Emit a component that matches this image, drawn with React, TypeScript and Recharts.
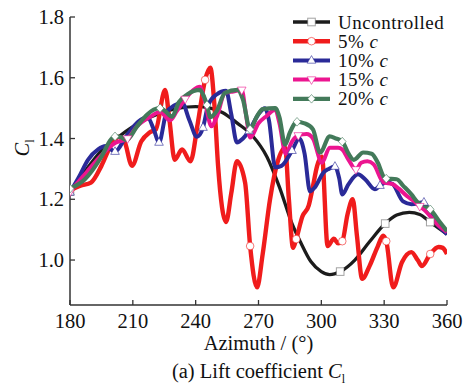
import React from "react";
import { LineChart, Line, XAxis, YAxis } from "recharts";

// azimuth (deg), lift coefficient
const uncontrolled: [number, number][] = [
  [180, 1.225], [188, 1.3], [195, 1.36], [204, 1.41], [214, 1.455], [223, 1.483], [232, 1.5], [240, 1.505],
  [247, 1.5], [253, 1.485], [260, 1.45], [267, 1.41], [274, 1.34], [280, 1.24], [286, 1.12], [290, 1.06],
  [295, 0.995], [300, 0.962], [304, 0.952], [309, 0.962], [316, 1.0], [323, 1.06], [330.5, 1.12], [336, 1.148],
  [342, 1.157], [347, 1.15], [352, 1.125], [356, 1.105], [360, 1.085],
];
const uncontrolledMarks = [180, 309, 330.5, 352];

const fivePct: [number, number][] = [
  [180, 1.23], [185, 1.245], [190, 1.255], [195, 1.31], [199, 1.37], [203, 1.405], [206, 1.39], [209.6, 1.31],
  [214, 1.39], [218, 1.42], [221, 1.43], [225.4, 1.56], [227.5, 1.46], [230, 1.33], [233.5, 1.364], [237.5, 1.325],
  [241, 1.45], [244.5, 1.593], [247, 1.633], [249, 1.505], [250.7, 1.31], [254.5, 1.125], [257, 1.22], [259.7, 1.325],
  [263.6, 1.255], [266, 1.046], [269.3, 0.91], [272, 1.02], [275.5, 1.2], [279, 1.32], [282.7, 1.37], [284.5, 1.2],
  [286.5, 1.04], [288, 1.069], [291, 1.144], [294, 1.18], [296, 1.243], [298, 1.31], [300.3, 1.34], [303, 1.046],
  [306, 1.07], [308, 1.055], [310, 1.062], [312.5, 1.15], [315, 1.2], [317, 1.08], [319.5, 0.938], [323, 0.98],
  [327, 1.046], [329.5, 1.08], [331, 1.062], [334.3, 0.91], [338.5, 0.993], [343, 1.026], [346, 1.0], [348, 0.98],
  [352, 1.02], [356, 1.043], [358, 1.04], [360, 1.02],
];
const fivePctMarks = [180, 244.5, 266, 288, 310, 331, 352];

const tenPct: [number, number][] = [
  [180, 1.223], [184, 1.27], [188.6, 1.33], [193.4, 1.364], [197, 1.375], [201.5, 1.357], [206.7, 1.406], [212.5, 1.455],
  [217, 1.47], [220, 1.43], [222.5, 1.387], [226, 1.485], [230, 1.51], [233.5, 1.518], [237, 1.46], [240.6, 1.406],
  [243.5, 1.436], [246, 1.51], [250, 1.545], [254.5, 1.557], [257, 1.48], [259.7, 1.387], [262.6, 1.4], [265.5, 1.425],
  [270, 1.48], [273, 1.5], [275, 1.46], [278, 1.305], [281, 1.31], [286, 1.36], [289.5, 1.4], [292, 1.35],
  [294.6, 1.226], [297, 1.24], [301, 1.288], [303.5, 1.3], [306.5, 1.308], [308.5, 1.27], [310, 1.216], [313, 1.25],
  [317.5, 1.282], [321, 1.265], [325.6, 1.233], [328, 1.245], [331, 1.256], [334, 1.25], [339, 1.193], [343, 1.184],
  [349, 1.19], [352, 1.15], [355, 1.12], [360, 1.085],
];
const tenPctMarks = [180, 201.5, 222.5, 243.5, 265.5, 286, 306.5, 328, 349];

const fifteenPct: [number, number][] = [
  [180, 1.225], [188, 1.29], [195, 1.345], [201.5, 1.385], [207.5, 1.4], [212, 1.44], [218, 1.47], [223, 1.487],
  [227.8, 1.46], [231, 1.49], [235, 1.53], [239, 1.56], [242, 1.57], [244.5, 1.52], [247.5, 1.44], [250, 1.47],
  [254, 1.55], [258, 1.555], [262, 1.56], [264, 1.48], [266, 1.403], [270, 1.45], [274, 1.475], [278, 1.495],
  [280, 1.45], [283, 1.35], [286, 1.39], [289, 1.41], [293, 1.415], [296, 1.4], [300.3, 1.32], [304, 1.37],
  [308, 1.37], [310, 1.364], [313, 1.33], [316.5, 1.298], [319, 1.32], [322, 1.325], [325, 1.315], [329.6, 1.256],
  [334, 1.25], [337, 1.235], [341, 1.21], [344, 1.195], [347, 1.177], [350, 1.16], [355, 1.12], [360, 1.092],
];
const fifteenPctMarks = [180, 207.5, 235, 262, 289, 316.5, 347];

const twentyPct: [number, number][] = [
  [180, 1.235], [187, 1.265], [195, 1.34], [199.6, 1.397], [201.5, 1.407], [204, 1.405], [207, 1.395], [212, 1.44],
  [217, 1.48], [220, 1.495], [223, 1.5], [225.5, 1.49], [228.7, 1.472], [232, 1.52], [236, 1.545], [242, 1.56],
  [243.5, 1.545], [245.4, 1.51], [247, 1.47], [250, 1.49], [254, 1.55], [260, 1.56], [262.5, 1.53], [266, 1.43],
  [269, 1.47], [272, 1.497], [278, 1.5], [280, 1.47], [282.7, 1.38], [285, 1.42], [288.4, 1.455], [292, 1.45],
  [296, 1.43], [299.4, 1.354], [304, 1.407], [307, 1.4], [310, 1.39], [313, 1.35], [315.5, 1.33], [320, 1.354],
  [324, 1.35], [327, 1.32], [330, 1.272], [331, 1.268], [336, 1.266], [339, 1.245], [343, 1.216], [346, 1.19],
  [349, 1.18], [352, 1.167], [356, 1.13], [360, 1.095],
];
const twentyPctMarks = [180, 201.5, 223, 245.4, 266, 288.4, 310, 331, 352];

const xTicks = [180, 210, 240, 270, 300, 330, 360];
const yTicks = [1.0, 1.2, 1.4, 1.6, 1.8];

const FONT = "'Liberation Serif', 'Times New Roman', serif";
const FS = 20.5;

type Shape = "square" | "circle" | "up" | "down" | "diamond";

const series = [
  { key: "unc", name: "Uncontrolled", pct: "", color: "#1c1c1c", width: 3.3, shape: "square" as Shape, data: uncontrolled, marks: uncontrolledMarks },
  { key: "p5", name: "5% ", pct: "c", color: "#f01c1c", width: 4.4, shape: "circle" as Shape, data: fivePct, marks: fivePctMarks },
  { key: "p10", name: "10% ", pct: "c", color: "#2a2a98", width: 4, shape: "up" as Shape, data: tenPct, marks: tenPctMarks },
  { key: "p15", name: "15% ", pct: "c", color: "#ec1590", width: 4, shape: "down" as Shape, data: fifteenPct, marks: fifteenPctMarks },
  { key: "p20", name: "20% ", pct: "c", color: "#437a5a", width: 4.2, shape: "diamond" as Shape, data: twentyPct, marks: twentyPctMarks },
];

function Marker({ shape, x, y, color }: { shape: Shape; x: number; y: number; color: string }) {
  const s = 3.8;
  const common = { fill: "#fff", stroke: color, strokeWidth: 1, strokeOpacity: 0.6 };
  if (shape === "square") return <rect x={x - s} y={y - s} width={2 * s} height={2 * s} {...common} stroke="#666" />;
  if (shape === "circle") return <circle cx={x} cy={y} r={s} {...common} />;
  if (shape === "up") return <polygon points={`${x},${y - s - 1} ${x - s - 0.5},${y + s - 1} ${x + s + 0.5},${y + s - 1}`} {...common} />;
  if (shape === "down") return <polygon points={`${x},${y + s + 1} ${x - s - 0.5},${y - s + 1} ${x + s + 0.5},${y - s + 1}`} {...common} />;
  return <polygon points={`${x},${y - s - 0.5} ${x + s},${y} ${x},${y + s + 0.5} ${x - s},${y}`} {...common} />;
}

const makeDot = (marks: number[], shape: Shape, color: string) => (props: any) => {
  const { cx, cy, payload, index } = props;
  if (!marks.includes(payload.az)) return <g key={`d${index}`} />;
  return (
    <g key={`d${index}`}>
      <Marker shape={shape} x={cx} y={cy} color={color} />
    </g>
  );
};

const XTick = ({ x, y, payload }: any) => (
  <g>
    <line x1={x} x2={x} y1={y} y2={y - 5} stroke="#333" strokeWidth={1.3} />
    <text x={x} y={y + 23} textAnchor="middle" fontSize={FS} fill="#111" fontFamily={FONT}>
      {payload.value}
    </text>
  </g>
);

const YTick = ({ x, y, payload }: any) => (
  <g>
    <line x1={x} x2={x + 5} y1={y} y2={y} stroke="#333" strokeWidth={1.3} />
    <text x={x - 6} y={y + 7} textAnchor="end" fontSize={FS} fill="#111" fontFamily={FONT}>
      {Number(payload.value).toFixed(1)}
    </text>
  </g>
);

const LegendBox = () => (
  <svg width={175} height={110} style={{ display: "block" }}>
    {series.map((s, i) => {
      const cy = 13 + i * 19.2;
      return (
        <g key={s.key}>
          <line x1={3} x2={40} y1={cy} y2={cy} stroke={s.color} strokeWidth={s.width} />
          <Marker shape={s.shape} x={21.5} y={cy} color={s.color} />
          <text x={48} y={cy + 6.5} fontSize={19} letterSpacing={0.5} fill="#111" fontFamily={FONT}>
            {s.name}
            {s.pct && <tspan fontStyle="italic">{s.pct}</tspan>}
          </text>
        </g>
      );
    })}
  </svg>
);

export default function App() {
  return (
    <div style={{ position: "relative", width: 469, height: 389, background: "#fff", fontFamily: FONT }}>
      <style>{`body{margin:0}`}</style>
      <LineChart width={469} height={389} margin={{ top: 17, right: 22, bottom: 0, left: 0 }}>
        <XAxis
          type="number"
          dataKey="az"
          domain={[180, 360]}
          ticks={xTicks}
          height={84}
          tickSize={0}
          tickMargin={0}
          tickLine={false}
          axisLine={{ stroke: "#333", strokeWidth: 1.5 }}
          tick={<XTick />}
          allowDataOverflow
        />
        <YAxis
          type="number"
          domain={[0.852, 1.8]}
          ticks={yTicks}
          width={70}
          tickSize={0}
          tickMargin={0}
          tickLine={false}
          axisLine={{ stroke: "#333", strokeWidth: 1.5 }}
          tick={<YTick />}
          allowDataOverflow
        />
        {series.map((s) => (
          <Line
            key={s.key}
            data={s.data.map(([az, cl]) => ({ az, cl }))}
            dataKey="cl"
            name={s.name}
            type="monotone"
            stroke={s.color}
            strokeWidth={s.width}
            dot={makeDot(s.marks, s.shape, s.color)}
            activeDot={false}
            isAnimationActive={false}
          />
        ))}
      </LineChart>
      <div style={{ position: "absolute", left: 290, top: 9 }}>
        <LegendBox />
      </div>
      <div style={{ position: "absolute", left: 0, top: 136, width: 44, height: 24, textAlign: "center", transform: "rotate(-90deg)", fontSize: FS, color: "#111", lineHeight: "24px" }}>
        <i>C</i>
        <sub style={{ fontSize: 12 }}>l</sub>
      </div>
      <div style={{ position: "absolute", left: 0, width: 517, top: 332, textAlign: "center", fontSize: FS, color: "#111", lineHeight: "22px" }}>
        Azimuth / (°)
      </div>
      <div style={{ position: "absolute", left: 0, width: 517, top: 360, textAlign: "center", fontSize: FS, color: "#111", lineHeight: "22px" }}>
        (a) Lift coefficient <i>C</i>
        <sub style={{ fontSize: 12 }}>l</sub>
      </div>
    </div>
  );
}
